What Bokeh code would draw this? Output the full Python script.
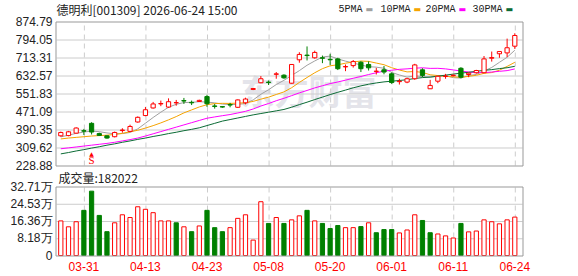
from bokeh.plotting import figure
from bokeh.models import Range1d, Label, ColumnDataSource
from bokeh.embed import file_html
from bokeh.resources import INLINE
from bokeh.core.properties import value

# ---------------- data ----------------
opens = [362, 363, 374, 385, 418, 372, 362, 358, 386, 382, 424, 453, 487, 505, 491,
         510, 520, 512, 516, 538, 496, 493, 502, 490, 510, 570, 600, 603, 638, 634,
         598, 703, 724, 712, 712, 705, 707, 671, 677, 692, 682, 651, 658, 640, 605,
         603, 618, 658, 573, 607, 628, 632, 665, 637, 645, 645, 710, 730, 734, 764]
highs = [381, 384, 400, 393, 423, 376, 364, 381, 396, 412, 449, 491, 514, 520, 530,
         523, 532, 520, 524, 546, 505, 495, 510, 525, 533, 577, 630, 610, 648, 638,
         684, 737, 763, 744, 722, 730, 712, 682, 702, 697, 696, 667, 675, 646, 618,
         622, 685, 665, 613, 631, 640, 636, 670, 645, 658, 720, 740, 742, 798, 822]
lows = [358, 360, 372, 366, 368, 361, 349, 355, 376, 380, 421, 450, 484, 495, 488,
        497, 505, 500, 514, 492, 484, 488, 490, 487, 503, 567, 598, 590, 618, 618,
        596, 690, 700, 708, 688, 680, 657, 652, 668, 648, 655, 637, 638, 595, 592,
        598, 613, 625, 572, 598, 618, 628, 620, 625, 641, 643, 695, 712, 715, 752]
closes = [377, 380, 397, 383, 379, 364, 352, 377, 388, 404, 445, 479, 505, 507, 515,
          511, 518, 510, 521, 506, 494, 491, 500, 523, 527, 574, 618, 601, 640, 622,
          682, 727, 722, 736, 710, 703, 663, 673, 695, 663, 667, 652, 648, 601, 607,
          618, 680, 633, 588, 629, 630, 634, 625, 643, 655, 707, 713, 740, 757, 812]
prev_close_before_first = 360
volumes_wan = [16.4, 13.6, 16.0, 21.4, 30.5, 19.0, 11.3, 15.5, 19.3, 18.0, 23.1, 21.9,
               20.3, 16.4, 16.4, 15.5, 13.6, 11.3, 14.0, 21.4, 13.2, 11.3, 13.2, 17.6,
               19.3, 7.3, 25.5, 15.2, 18.0, 15.2, 16.9, 18.8, 21.4, 16.4, 15.2, 12.8,
               14.2, 13.2, 13.2, 13.7, 15.5, 10.8, 12.3, 12.3, 10.7, 12.1, 19.3, 16.6,
               10.8, 10.2, 9.3, 8.3, 15.2, 11.2, 11.6, 16.9, 16.0, 15.0, 16.9, 18.2022]

# moving-average values before the window is full
ma5_head = [357, 365, 373, 379]
ma10_head = [348, 352, 355, 358, 361, 363, 365, 368, 373]
ma20_head = [304, 308, 312, 316, 320, 324, 328, 333, 339, 345, 352, 361, 371, 381,
             391, 401, 411, 421, 431]
ma30_head = [281, 287, 294, 300, 307, 313, 320, 326, 333, 339, 346, 352, 359, 365,
             372, 378, 385, 391, 398, 408, 418, 428, 435, 442, 449, 456, 462, 468, 474]

date_tick_index = [3, 11, 19, 27, 35, 43, 51, 59]
date_tick_labels = ["03-31", "04-13", "04-23", "05-08", "05-20", "06-01", "06-11", "06-24"]
price_ticks = [228.88, 309.62, 390.35, 471.09, 551.83, 632.57, 713.31, 794.05, 874.79]
price_tick_labels = ["228.88", "309.62", "390.35", "471.09", "551.83", "632.57",
                     "713.31", "794.05", "874.79"]
vol_ticks = [0, 8.1775, 16.355, 24.5325, 32.71]
vol_tick_labels = ["0", "8.18万", "16.36万", "24.53万", "32.71万"]

title_text = "德明利[001309] 2026-06-24 15:00"
legend_names = ["5PMA", "10PMA", "20PMA", "30PMA"]
vol_title = "成交量:182022"
signal_index = [4]
signal_text = ["S"]

# ---------------- styles / layout (pixels) ----------------
RED = "#ff0000"
GREEN = "#008000"
MA_COLORS = ["#a0a0a0", "#f5a300", "#ff00ff", "#0b6b35"]
GRID = "#cccccc"
FRAME = "#999999"
TXT = "#222222"
FONT = "Liberation Sans"
CJK = "Noto Sans CJK SC"

W, H = 578, 276
STEP_PX = 7.695                 # pixels per candle
FIRST_PX = 60.3                 # centre of first candle
BOX_L, BOX_R = 56, 522          # plotting boxes, left / right pixel
P_TOP, P_BOT = 21, 165          # price box rows
V_TOP, V_BOT = 186, 255         # volume box rows

n = len(closes)
xs = list(range(n))


def x_at(px):
    return (px - FIRST_PX) / STEP_PX


X0, X1 = x_at(BOX_L), x_at(BOX_R)
hx = 0.5 / STEP_PX


def moving_average(window, head):
    out = list(head)
    for i in range(len(head), n):
        seg = closes[i - window + 1:i + 1]
        out.append(sum(seg) / window)
    return out


mas = [moving_average(5, ma5_head), moving_average(10, ma10_head),
       moving_average(20, ma20_head), moving_average(30, ma30_head)]

up = [c >= o for o, c in zip(opens, closes)]
prevs = [prev_close_before_first] + closes[:-1]
vol_up = [c >= p for c, p in zip(closes, prevs)]

src = ColumnDataSource(dict(
    x=xs, o=opens, h=highs, l=lows, c=closes,
    top=[max(o, c) for o, c in zip(opens, closes)],
    bot=[min(o, c) for o, c in zip(opens, closes)],
    line=[RED if u else GREEN for u in up],
    fill=["#ffffff" if u else GREEN for u in up],
    vol=volumes_wan,
    vline=[RED if u else GREEN for u in vol_up],
    vfill=["#ffffff" if u else GREEN for u in vol_up],
))

# value ranges chosen so that the boxes land on their pixel rows
pk = (price_ticks[-1] - price_ticks[0]) / (P_BOT - P_TOP)
vk = (vol_ticks[-1] - vol_ticks[0]) / (V_BOT - V_TOP)
price_range = Range1d(price_ticks[0] - (H - P_BOT) * pk, price_ticks[-1] + P_TOP * pk)
vol_range = Range1d(vol_ticks[0] - (H - V_BOT) * vk, vol_ticks[-1] + V_TOP * vk)

p = figure(width=W, height=H, x_range=Range1d(x_at(0), x_at(W)), y_range=price_range,
           output_backend="svg", toolbar_location=None,
           min_border=0, x_axis_location=None, y_axis_location=None)
p.extra_y_ranges = {"vol": vol_range}
p.outline_line_color = None
p.xgrid.visible = False
p.ygrid.visible = False
p.background_fill_color = "#ffffff"
p.border_fill_color = "#ffffff"


def draw_grid(y_lo, y_hi, y_grid, half_y, rng):
    p.segment(x0=[X0] * len(y_grid), x1=[X1] * len(y_grid),
              y0=[g - half_y for g in y_grid], y1=[g - half_y for g in y_grid],
              line_color=GRID, line_width=1, y_range_name=rng)
    p.segment(x0=[t + hx for t in date_tick_index], x1=[t + hx for t in date_tick_index],
              y0=[y_lo] * len(date_tick_index), y1=[y_hi] * len(date_tick_index),
              line_color=GRID, line_width=1, line_dash="5 4", y_range_name=rng)


def draw_border(y_lo, y_hi, half_y, rng):
    p.multi_line(xs=[[X0 - hx, X1 + hx, X1 + hx, X0 - hx, X0 - hx]],
                 ys=[[y_hi - half_y, y_hi - half_y, y_lo - half_y, y_lo - half_y, y_hi - half_y]],
                 line_color=FRAME, line_width=1, y_range_name=rng)


def axis_labels(ys, labels, rng):
    p.text(x=[X0] * len(ys), y=ys, text=labels, x_offset=-4,
           text_align="right", text_baseline="middle", text_color=TXT,
           text_font=value(FONT), text_font_size="12px", y_range_name=rng)


# watermark (screen units: from canvas bottom-left)
p.add_layout(Label(x=240, y=H - 90, x_units="screen", y_units="screen", text="东方财富",
                   text_font=CJK, text_font_size="34px", text_font_style="bold",
                   text_color="#e4e4ea", text_baseline="middle", level="underlay"))

# ---- price box ----
draw_grid(price_ticks[0], price_ticks[-1], price_ticks[1:-1], 0.5 * pk, "default")
for ma, col in zip(mas, MA_COLORS):
    p.line(xs, ma, line_color=col, line_width=1)
p.segment(x0="x", y0="l", x1="x", y1="h", color="line", line_width=1, source=src)
p.vbar(x="x", top="top", bottom="bot", width=0.55, fill_color="fill",
       line_color="line", line_width=1, source=src)
p.text(x=signal_index, y=[price_ticks[0]] * len(signal_index), text=signal_text,
       text_color=RED, text_font=value("Liberation Serif"), text_font_size="11px",
       text_align="center", text_baseline="bottom", y_offset=0)
p.text(x=signal_index, y=[price_ticks[0]] * len(signal_index), text=["▲"] * len(signal_index),
       text_color=RED, text_font=value("DejaVu Sans"), text_font_size="6px",
       text_align="center", text_baseline="bottom", y_offset=-9)
draw_border(price_ticks[0], price_ticks[-1], 0.5 * pk, "default")
axis_labels(price_ticks, price_tick_labels, "default")

# ---- volume box ----
draw_grid(vol_ticks[0], vol_ticks[-1], vol_ticks[1:-1], 0.5 * vk, "vol")
p.vbar(x="x", top="vol", bottom=0, width=0.55, fill_color="vfill", line_color="vline",
       line_width=1, source=src, y_range_name="vol")
draw_border(vol_ticks[0], vol_ticks[-1], 0.5 * vk, "vol")
axis_labels(vol_ticks, vol_tick_labels, "vol")
p.text(x=date_tick_index, y=[vol_ticks[0]] * len(date_tick_index), text=date_tick_labels,
       y_offset=11, text_align="center", text_baseline="middle", text_color=RED,
       text_font=value(FONT), text_font_size="12px", y_range_name="vol")

# ---- header texts ----
p.add_layout(Label(x=56, y=H - 9, x_units="screen", y_units="screen", text=title_text,
                   text_font=CJK, text_font_size="12px", text_color=TXT,
                   text_baseline="middle"))
leg_text_x = [338, 380, 425, 472]
leg_mark_x = [365, 413, 458, 505]
for name, col, tx, mx in zip(legend_names, MA_COLORS, leg_text_x, leg_mark_x):
    p.add_layout(Label(x=tx, y=H - 9, x_units="screen", y_units="screen", text=name,
                       text_font="Liberation Mono", text_font_size="10px", text_color=TXT,
                       text_baseline="middle"))
    p.add_layout(Label(x=mx, y=H - 9, x_units="screen", y_units="screen", text="▬",
                       text_font="DejaVu Sans", text_font_size="8px", text_color=col,
                       text_baseline="middle"))
p.add_layout(Label(x=58, y=H - 177, x_units="screen", y_units="screen", text=vol_title,
                   text_font=CJK, text_font_size="12px", text_color=TXT,
                   text_baseline="middle"))

open("out.html", "w").write(file_html(p, INLINE))
